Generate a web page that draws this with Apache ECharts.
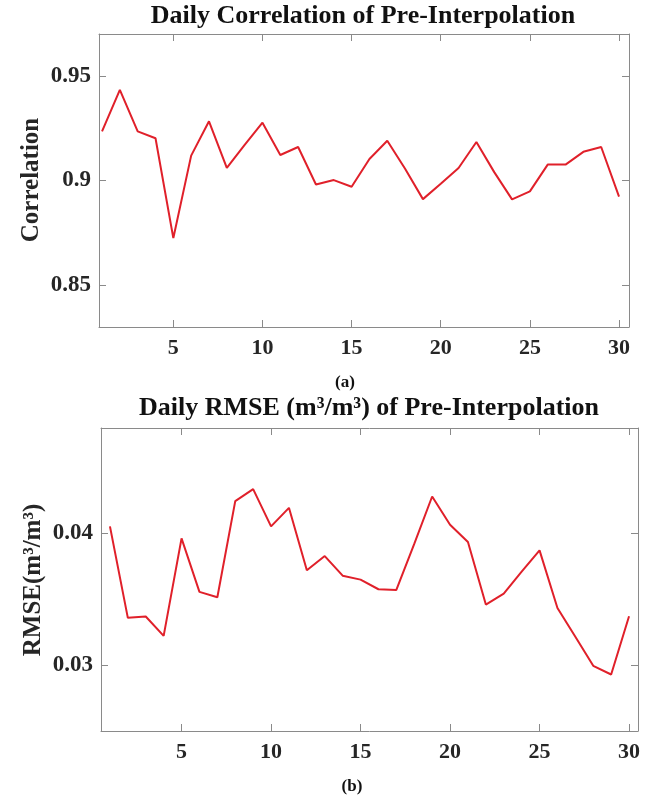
<!DOCTYPE html>
<html>
<head>
<meta charset="utf-8">
<script src="https://cdn.jsdelivr.net/npm/echarts@6/dist/echarts.min.js"></script>
<style>
html,body{margin:0;padding:0;background:#fff;}
#chart{width:665px;height:800px;}
</style>
</head>
<body>
<div id="chart"></div>
<script>
const days = [1,2,3,4,5,6,7,8,9,10,11,12,13,14,15,16,17,18,19,20,21,22,23,24,25,26,27,28,29,30];
const correlation = [0.9235,0.9433,0.9235,0.9202,0.8725,0.9119,0.9283,0.9060,0.9170,0.9276,
                     0.9122,0.9160,0.8981,0.9002,0.8970,0.9103,0.9190,0.9056,0.8911,0.8985,
                     0.9060,0.9184,0.9040,0.8910,0.8948,0.9076,0.9076,0.9137,0.9160,0.8923];
const rmse = [0.04053,0.03359,0.03369,0.03222,0.03962,0.03556,0.03515,0.04245,0.04336,0.04053,
              0.04194,0.03720,0.03828,0.03679,0.03649,0.03576,0.03571,0.03920,0.04280,0.04066,
              0.03934,0.03460,0.03543,0.03710,0.03871,0.03434,0.03215,0.02995,0.02929,0.03371];
const xTicks = [5,10,15,20,25,30];
const corrTicks = [0.85,0.9,0.95];
const rmseTicks = [0.03,0.04];

const FONT = 'Liberation Serif';
const TXT = '#262626';
const AX = '#8a8a8a';

function xAx(grid, min, max, pos, labels){
  return {
    type:'value', gridIndex:grid, min:min, max:max, position:pos,
    axisLine:{show:true, onZero:false, lineStyle:{color:AX, width:1}},
    axisTick:{show:true, inside:true, length:7, customValues:xTicks, lineStyle:{color:AX}},
    axisLabel:{show:labels, customValues:xTicks, margin:10, fontFamily:FONT, fontWeight:'bold', fontSize:22, color:TXT},
    splitLine:{show:false}
  };
}
function yAx(grid, min, max, pos, ticks, labels){
  return {
    type:'value', gridIndex:grid, min:min, max:max, position:pos,
    axisLine:{show:true, onZero:false, lineStyle:{color:AX, width:1}},
    axisTick:{show:true, inside:true, length:7, customValues:ticks, lineStyle:{color:AX}},
    axisLabel:{show:labels, customValues:ticks, margin:8, fontFamily:FONT, fontWeight:'bold', fontSize:23, color:TXT,
               formatter:function(v){return String(+v.toFixed(4));}},
    splitLine:{show:false}
  };
}

const chart = echarts.init(document.getElementById('chart'), null, {renderer:'canvas'});
chart.setOption({
  animation:false,
  backgroundColor:'#fff',
  grid:[
    {left:99, right:36, top:34, bottom:473},
    {left:101, right:27, top:428, bottom:69}
  ],
  xAxis:[
    xAx(0,0.83,30.56,'bottom',true),
    xAx(0,0.83,30.56,'top',false),
    xAx(1,0.5,30.5,'bottom',true),
    xAx(1,0.5,30.5,'top',false)
  ],
  yAxis:[
    yAx(0,0.83,0.97,'left',corrTicks,true),
    yAx(0,0.83,0.97,'right',corrTicks,false),
    yAx(1,0.025,0.048,'left',rmseTicks,true),
    yAx(1,0.025,0.048,'right',rmseTicks,false)
  ],
  graphic:[
    {type:'text', x:363, y:16, style:{text:'Daily Correlation of Pre-Interpolation', fontFamily:FONT, fontWeight:'bold', fontSize:26, fill:'#111', align:'center', verticalAlign:'middle'}},
    {type:'text', x:345, y:383, style:{text:'(a)', fontFamily:FONT, fontWeight:'bold', fontSize:17, fill:'#111', align:'center', verticalAlign:'middle'}},
    {type:'text', x:369, y:408, style:{text:'Daily RMSE (m³/m³) of Pre-Interpolation', fontFamily:FONT, fontWeight:'bold', fontSize:26, fill:'#111', align:'center', verticalAlign:'middle'}},
    {type:'text', x:352, y:787, style:{text:'(b)', fontFamily:FONT, fontWeight:'bold', fontSize:17, fill:'#111', align:'center', verticalAlign:'middle'}},
    {type:'text', x:32, y:180, rotation:Math.PI/2, style:{text:'Correlation', fontFamily:FONT, fontWeight:'bold', fontSize:25, fill:TXT, align:'center', verticalAlign:'middle'}},
    {type:'text', x:34, y:580, rotation:Math.PI/2, style:{text:'RMSE(m³/m³)', fontFamily:FONT, fontWeight:'bold', fontSize:25, fill:TXT, align:'center', verticalAlign:'middle'}}
  ],
  series:[
    {type:'line', xAxisIndex:0, yAxisIndex:0, showSymbol:false, symbol:'none',
     lineStyle:{color:'#e0202a', width:2}, data:days.map(function(d,i){return [d, correlation[i]];})},
    {type:'line', xAxisIndex:2, yAxisIndex:2, showSymbol:false, symbol:'none',
     lineStyle:{color:'#e0202a', width:2}, data:days.map(function(d,i){return [d, rmse[i]];})}
  ]
});
</script>
</body>
</html>
